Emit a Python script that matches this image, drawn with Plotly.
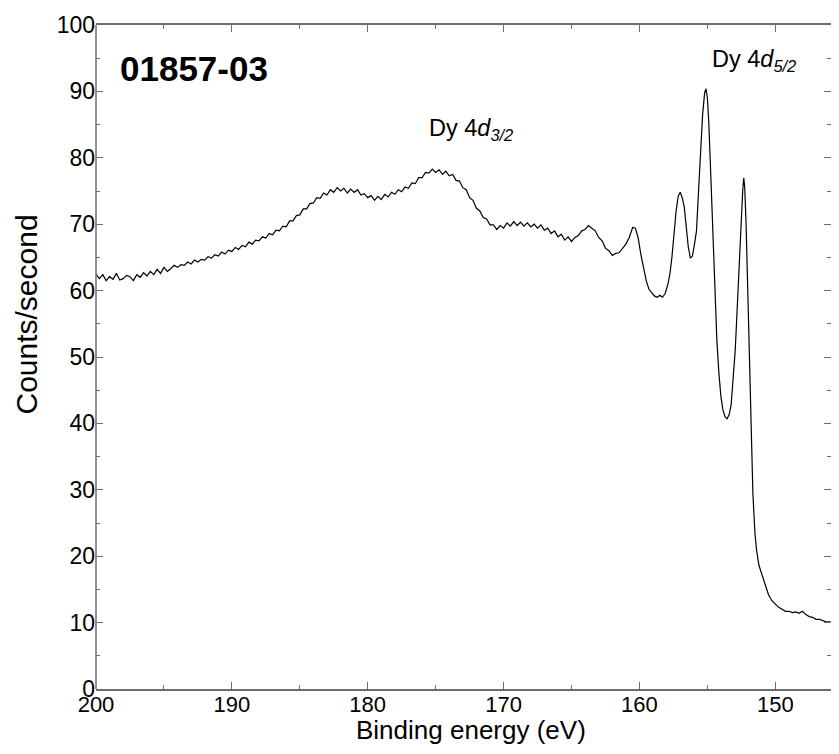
import plotly.graph_objects as go

# Binding energy (eV) and counts/second
energy = [
    200, 199.75, 199.5, 199.25, 199, 198.75, 198.5, 198.25, 198, 197.75, 197.5, 197.25, 197, 196.75, 196.5, 196.25,
    196, 195.75, 195.5, 195.25, 195, 194.75, 194.5, 194.25, 194, 193.75, 193.5, 193.25, 193, 192.75, 192.5, 192.25,
    192, 191.75, 191.5, 191.25, 191, 190.75, 190.5, 190.25, 190, 189.75, 189.5, 189.25, 189, 188.75, 188.5, 188.25,
    188, 187.75, 187.5, 187.25, 187, 186.75, 186.5, 186.25, 186, 185.75, 185.5, 185.25, 185, 184.75, 184.5, 184.25,
    184, 183.75, 183.5, 183.25, 183, 182.75, 182.5, 182.25, 182, 181.75, 181.5, 181.25, 181, 180.75, 180.5, 180.25,
    180, 179.75, 179.5, 179.25, 179, 178.75, 178.5, 178.25, 178, 177.75, 177.5, 177.25, 177, 176.75, 176.5, 176.25,
    176, 175.75, 175.5, 175.25, 175, 174.75, 174.5, 174.25, 174, 173.75, 173.5, 173.25, 173, 172.75, 172.5, 172.25,
    172, 171.75, 171.5, 171.25, 171, 170.75, 170.5, 170.25, 170, 169.75, 169.5, 169.25, 169, 168.75, 168.5, 168.25,
    168, 167.75, 167.5, 167.25, 167, 166.75, 166.5, 166.25, 166, 165.75, 165.5, 165.25, 165, 164.75, 164.5, 164.25,
    164, 163.75, 163.5, 163.25, 163, 162.75, 162.5, 162.25, 162,
    161.75, 161.5, 161.25, 161, 160.75, 160.5, 160.3, 160.1, 159.9, 159.7, 159.5, 159.3, 159.1, 158.9, 158.7, 158.5,
    158.3, 158.1, 157.9, 157.75, 157.6, 157.45, 157.3, 157.15, 157.0, 156.85, 156.7, 156.55, 156.4, 156.25, 156.1,
    155.95, 155.8, 155.65, 155.5, 155.35, 155.2, 155.1, 155.0, 154.9, 154.75, 154.6, 154.45, 154.3, 154.15, 154.0,
    153.85, 153.7, 153.55, 153.4, 153.25, 153.1, 152.95, 152.8, 152.65, 152.5, 152.4, 152.32, 152.25, 152.15, 152.05,
    151.95, 151.85, 151.75, 151.65, 151.5, 151.38, 151.2, 151.0, 150.75, 150.5, 150.25, 150.0, 149.75, 149.5, 149.25,
    149.0, 148.75, 148.5, 148.25, 148.0, 147.75, 147.5, 147.25, 147.0, 146.75, 146.5, 146.25, 146.0, 145.75, 145.5,
    145.25, 145.0,
]
counts = [
    62.5, 61.8, 62.4, 61.5, 62.1, 61.7, 62.6, 61.6, 61.8, 62.3, 62.1, 61.5, 62.4, 62.0, 62.7, 62.2,
    62.9, 62.4, 63.2, 62.6, 63.5, 62.9, 63.3, 63.8, 63.5, 63.9, 63.8, 64.3, 64.0, 64.6, 64.3, 64.7,
    64.6, 65.1, 64.9, 65.4, 65.2, 65.8, 65.5, 66.1, 65.9, 66.5, 66.2, 66.8, 66.6, 67.3, 67.0, 67.6,
    67.5, 68.1, 67.9, 68.6, 68.4, 69.1, 69.0, 69.7, 69.6, 70.5, 70.5, 71.3, 71.4, 72.3, 72.3, 73.1,
    73.2, 74.0, 73.9, 74.7, 74.4, 75.2, 74.8, 75.5, 75.0, 75.4, 74.7, 75.3, 74.8, 75.2, 74.4, 74.6,
    74.0, 74.3, 73.6, 74.2, 73.7, 74.5, 74.1, 74.8, 74.5, 75.2, 74.9, 75.6, 75.4, 76.2, 76.1, 77.0,
    77.0, 77.8, 77.7, 78.3, 77.8, 78.2, 77.5, 78.0, 77.3, 77.5, 76.6, 76.5, 75.5, 75.2, 74.0, 73.6,
    72.4, 72.0, 71.0, 70.8, 69.9, 69.9, 69.2, 69.8, 69.4, 70.2, 69.7, 70.4, 69.8, 70.3, 69.7, 70.2,
    69.6, 70.0, 69.4, 69.9, 69.1, 69.4, 68.6, 69.0, 68.1, 68.5, 67.6, 68.1, 67.4, 68.0, 68.3, 69.0,
    69.2, 69.8, 69.4, 69.0, 68.0, 67.5, 66.4, 66.0, 65.3,
    65.6, 65.7, 66.3, 67.0, 68.0, 69.5, 69.4, 68.0, 65.5, 63.3, 61.5, 60.2, 59.6, 59.2, 59.0, 59.3,
    59.0, 59.6, 61.0, 62.6, 65.2, 68.8, 72.0, 74.2, 74.8, 74.0, 72.6, 69.5, 66.5, 64.9, 65.2,
    67.0, 69.0, 75.0, 81.5, 86.5, 89.8, 90.4, 89.0, 85.5, 77.5, 69.0, 59.5, 52.5, 47.5, 44.0,
    42.0, 41.0, 40.7, 41.3, 42.8, 46.5, 51.0, 57.5, 65.0, 71.5, 75.0, 77.0, 75.5, 70.0, 61.0,
    53.0, 45.0, 38.0, 29.5, 23.5, 20.9, 18.6, 17.3, 15.6, 14.2, 13.3, 12.8, 12.3, 12.0, 11.7,
    11.7, 11.5, 11.6, 11.4, 11.7, 11.2, 10.9, 10.8, 10.5, 10.5, 10.3, 10.1, 10.1, 9.9, 10.0,
    9.8, 9.9,
]

x_ticks = [200, 190, 180, 170, 160, 150]
y_ticks = [0, 10, 20, 30, 40, 50, 60, 70, 80, 90, 100]

FONT = "Liberation Sans, Arial, sans-serif"
AXC = "#6e6e6e"

fig = go.Figure()
fig.add_trace(go.Scatter(x=energy, y=counts, mode="lines",
                         line=dict(color="black", width=1.2), showlegend=False))

fig.update_layout(
    width=823, height=738,
    margin=dict(l=88, r=0, t=17, b=57),
    paper_bgcolor="white", plot_bgcolor="white",
    font=dict(family=FONT, color="black", size=23),
    xaxis=dict(range=[200, 145.9], tickvals=x_ticks, ticks="inside", ticklen=7, tickwidth=1.2,
               tickcolor=AXC, showline=True, linecolor=AXC, linewidth=1.5, mirror="ticks",
               showgrid=False, zeroline=False, tickfont=dict(size=22), ticklabelstandoff=-5,
               minor=dict(dtick=5, ticks="inside", ticklen=4, tickcolor=AXC, showgrid=False)),
    yaxis=dict(range=[0, 100], tickvals=y_ticks, ticks="inside", ticklen=7, tickwidth=1.2,
               tickcolor=AXC, showline=False, mirror="ticks",
               showgrid=False, zeroline=False, tickfont=dict(size=23),
               minor=dict(dtick=5, ticks="inside", ticklen=4, tickcolor=AXC, showgrid=False)),
    shapes=[dict(type="line", xref="paper", yref="paper", x0=0, x1=0, y0=0, y1=1,
                 line=dict(color=AXC, width=1.5))],
    annotations=[
        dict(text="Binding energy (eV)", xref="paper", yref="paper", x=0.51, y=-0.0867,
             xanchor="center", yanchor="bottom", showarrow=False, font=dict(size=26)),
        dict(text="Counts/second", xref="paper", x=-0.0952, yref="paper", y=0.564,
             xanchor="center", yanchor="middle", textangle=-90, showarrow=False, font=dict(size=30)),
        dict(text="<b>01857-03</b>", xref="paper", yref="paper", x=0.0299, y=0.935,
             xanchor="left", yanchor="middle", showarrow=False, font=dict(size=35)),
        dict(text="Dy 4<i>d<sub>3/2</sub></i>", xref="paper", yref="paper", x=0.450, y=0.843,
             xanchor="left", yanchor="middle", showarrow=False, font=dict(size=23.5)),
        dict(text="Dy 4<i>d<sub>5/2</sub></i>", xref="paper", yref="paper", x=0.835, y=0.946,
             xanchor="left", yanchor="middle", showarrow=False, font=dict(size=23.5)),
    ],
)

fig.write_html("out.html")
